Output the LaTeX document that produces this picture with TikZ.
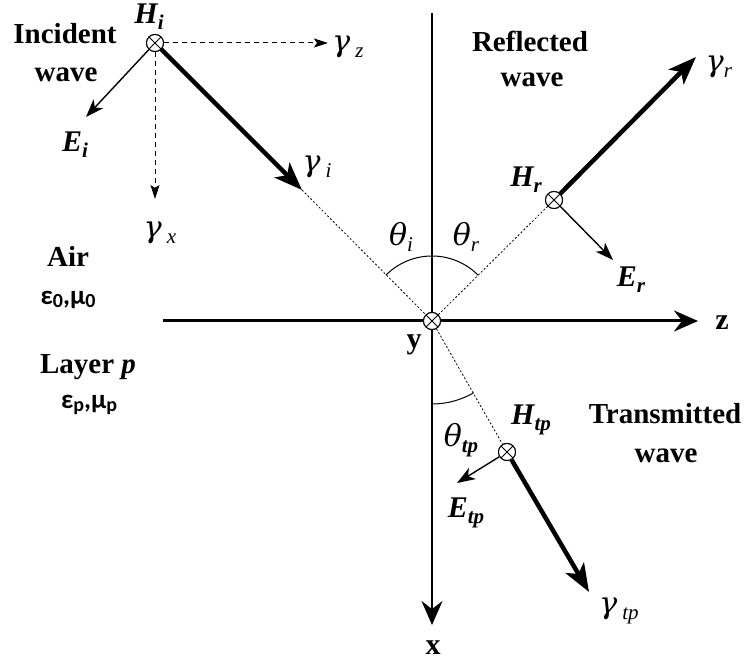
\documentclass[tikz,border=0pt]{standalone}
\usepackage{fontspec}
\setmainfont{Liberation Serif}
\newfontfamily\epsfont{Carlito}
\newfontfamily\grfont{DejaVu Serif}
\usetikzlibrary{arrows.meta}
\newcommand{\gsub}[2]{#1\,\raisebox{-6pt}{\fontsize{21}{21}\selectfont\rmfamily\itshape #2}}
\newcommand{\tsub}[2]{#1\raisebox{-6pt}{\fontsize{21}{21}\selectfont #2}}
\begin{document}
\begin{tikzpicture}[x=1pt,y=-1pt,
  axisline/.style={line width=#1,-{Stealth[length=24pt,width=21pt,inset=8pt]}},
  wavearrow/.style={line width=4.5pt,-{Stealth[length=28pt,width=21pt,inset=7pt]}},
  fieldarrow/.style={line width=1.4pt,-{Stealth[length=18pt,width=13pt,inset=5pt]}},
  dasharrow/.style={line width=1pt,dash pattern=on 5pt off 4pt,-{Stealth[length=14pt,width=9pt,inset=3pt]}},
  dotline/.style={line width=0.8pt,dash pattern=on 2pt off 2pt},
  anglearc/.style={line width=1pt},
  otimes/.style={circle,draw,line width=1pt,minimum size=17pt,inner sep=0pt,fill=white,
    path picture={\draw[line width=0.8pt] (path picture bounding box.north west)--(path picture bounding box.south east)
      (path picture bounding box.north east)--(path picture bounding box.south west);}},
  word/.style={font=\fontsize{29}{34}\selectfont\bfseries,anchor=base,inner sep=0pt},
  greek/.style={font=\fontsize{30}{36}\selectfont\grfont\itshape,inner sep=0pt},
  field/.style={font=\fontsize{30}{34}\selectfont\bfseries\itshape,inner sep=0pt},
  axlab/.style={font=\fontsize{30}{34}\selectfont\bfseries,inner sep=0pt},
  medium/.style={font=\fontsize{27}{30}\selectfont\epsfont\bfseries,inner sep=0pt}
]
\useasboundingbox (0,0) rectangle (747,668);

% axes
\coordinate (zl) at (163,321);
\coordinate (zr) at (698,321);
\coordinate (xt) at (432,13);
\coordinate (xb) at (432,625);
\draw[axisline=3pt] (zl) -- (zr);
\draw[axisline=2pt] (xt) -- (xb);

% origin and field points
\node[otimes] (O) at (432,321) {};
\node[otimes] (Hi) at (155,43) {};
\node[otimes] (Hr) at (554,200) {};
\node[otimes] (Htp) at (507,452) {};

% tips
\coordinate (gi) at (302,190);
\coordinate (gr) at (696,57);
\coordinate (gtp) at (589,592);
\coordinate (Eitip) at (86,117);
\coordinate (Ertip) at (613,260);
\coordinate (Etptip) at (457,483);
\coordinate (gztip) at (328,43);
\coordinate (gxtip) at (155,199);

% dotted ray lines
\draw[dotline] (gi) -- (O);
\draw[dotline] (O) -- (Hr);
\draw[dotline] (O) -- (Htp);

% wave arrows
\draw[wavearrow] (Hi) -- (gi);
\draw[wavearrow] (Hr) -- (gr);
\draw[wavearrow] (Htp) -- (gtp);

% field arrows
\draw[fieldarrow] (Hi) -- (Eitip);
\draw[fieldarrow] (Hr) -- (Ertip);
\draw[fieldarrow] (Htp) -- (Etptip);

% dashed components
\draw[dasharrow] (Hi) -- (gztip);
\draw[dasharrow] (Hi) -- (gxtip);

% angle arcs
\draw[anglearc] (O) ++(225:65) arc[start angle=225,end angle=315,radius=65];
\draw[anglearc] (O) ++(90:83) arc[start angle=90,end angle=60,radius=83];

% redraw circles on top
\node[otimes] at (O) {};
\node[otimes] at (Hi) {};
\node[otimes] at (Hr) {};
\node[otimes] at (Htp) {};

% labels
\node[field] (lHi) at (149,17) {\tsub{H}{i}};
\node[greek] (lgz) at (348,47) {\gsub{γ}{z}};
\node[field] (lEi) at (75,145) {\tsub{E}{i}};
\node[greek] (lgx) at (160,233) {\gsub{γ}{x}};
\node[greek] (lgi) at (317,167) {\gsub{γ}{i}};
\node[field] (lHr) at (526,180) {\tsub{H}{r}};
\node[greek] (lgr) at (719,67) {\tsub{γ}{\rmfamily\itshape r}};
\node[field] (lEr) at (631,280) {\tsub{E}{r}};
\node[greek] (lti) at (401,237) {\tsub{θ}{\rmfamily\itshape i}};
\node[greek] (ltr) at (466,237) {\tsub{θ}{\rmfamily\itshape r}};
\node[field] (lHtp) at (531,420) {\tsub{H}{tp}};
\node[greek] (lttp) at (461,440) {\tsub{θ}{\rmfamily\bfseries\itshape tp}};
\node[field] (lEtp) at (466,513) {\tsub{E}{tp}};
\node[greek] (lgtp) at (619,611) {\gsub{γ}{tp}};

\node[axlab] (ly) at (414,345) {y};
\node[axlab] (lz) at (722,323) {z};
\node[axlab] (lx) at (433,648) {x};

\node[word] (inc1) at (65,44) {Incident};
\node[word] (inc2) at (66,82) {wave};
\node[word] (ref1) at (530,52) {Reflected};
\node[word] (ref2) at (532,87) {wave};
\node[word] (tra1) at (665,423) {Transmitted};
\node[word] (tra2) at (666,462) {wave};
\node[word] (air) at (68,267) {Air};
\node[medium] (m0) at (68,300) {ε\raisebox{-3pt}{\fontsize{20}{20}\selectfont 0},μ\raisebox{-3pt}{\fontsize{20}{20}\selectfont 0}};
\node[word] (lay) at (88,373) {Layer \textit{p}};
\node[medium] (mp) at (89,405) {ε\raisebox{-3pt}{\fontsize{20}{20}\selectfont p},μ\raisebox{-3pt}{\fontsize{20}{20}\selectfont p}};
\end{tikzpicture}
\end{document}
